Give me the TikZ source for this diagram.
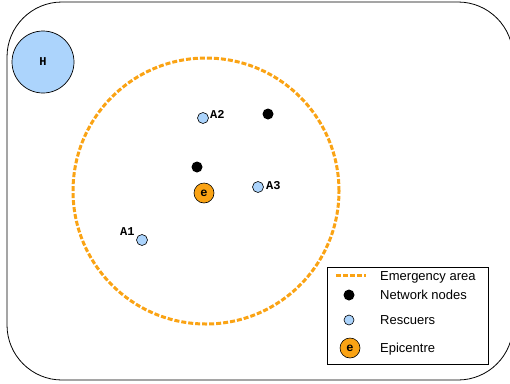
\documentclass[tikz,border=0pt]{standalone}
\usepackage{fontspec}
\setmainfont{Liberation Sans}
\setmonofont{Liberation Mono}
\usetikzlibrary{positioning}
\definecolor{emorange}{RGB}{250,163,20}
\definecolor{resblue}{RGB}{172,212,252}

\begin{document}
\begin{tikzpicture}[x=1pt, y=-1pt,
    rescuer/.style={circle, draw, fill=resblue, minimum size=11pt, inner sep=0pt, line width=0.6pt},
    netnode/.style={circle, fill=black, minimum size=11pt, inner sep=0pt},
    epicentre/.style={circle, draw, fill=emorange, minimum size=20pt, inner sep=0pt, line width=0.6pt,
        font=\ttfamily\bfseries\fontsize{12}{12}\selectfont},
    lbl/.style={font=\ttfamily\bfseries\fontsize{12}{12}\selectfont, inner sep=0pt, anchor=base west},
    area/.style={draw=emorange, line width=3pt, dash pattern=on 5pt off 2pt},
    legtext/.style={font=\fontsize{13}{13}\selectfont, inner sep=0pt, anchor=base west}]
\useasboundingbox (0,0) rectangle (510,383);

% region and headquarters
\draw[line width=0.8pt, rounded corners=55pt] (7,2) rectangle (513,380);
\node[circle, draw, fill=resblue, minimum size=62pt, inner sep=0pt, line width=0.7pt,
    font=\ttfamily\bfseries\fontsize{12}{12}\selectfont] (hq) at (43,62) {H};

% emergency area
\node[area, circle, minimum size=266pt, inner sep=0pt] (area) at (206,191) {};

% network nodes, rescuers and epicentre
\node[netnode] (n1) at (268,114) {};
\node[netnode] (n2) at (197,167) {};
\node[epicentre] (epi) at (204,193) {e};
\node[rescuer] (a1) at (142,240) {};
\node[rescuer] (a2) at (203,118) {};
\node[rescuer] (a3) at (258,187) {};
\node[lbl] (a1lbl) at (120,235.5) {A1};
\node[lbl] (a2lbl) at (210,118) {A2};
\node[lbl] (a3lbl) at (266,189) {A3};

% legend
\node[draw, line width=0.8pt, minimum width=161pt, minimum height=97pt, inner sep=0pt] (legend) at (407.5,315.5) {};
\coordinate (dashl) at (336,275);
\coordinate (dashr) at (366,275);
\draw[area] (dashl) -- (dashr);
\node[netnode] (legnet) at (349,295) {};
\node[rescuer, minimum size=10pt] (legres) at (349,320) {};
\node[epicentre] (legepi) at (350,348) {e};
\node[legtext] (t1) at (380,280) {Emergency area};
\node[legtext] (t2) at (380,299.5) {Network nodes};
\node[legtext] (t3) at (380,324.5) {Rescuers};
\node[legtext] (t4) at (380,352.5) {Epicentre};
\end{tikzpicture}
\end{document}
